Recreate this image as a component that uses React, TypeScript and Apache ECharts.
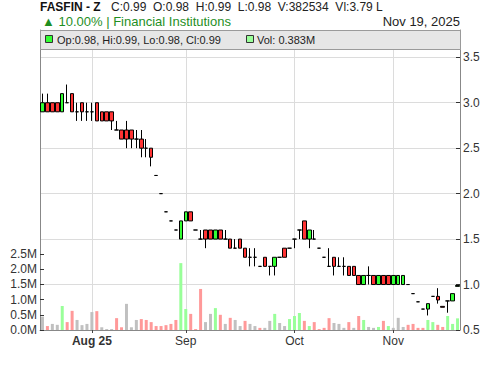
import React, { useEffect, useRef } from 'react';
import * as echarts from 'echarts';

// Trading days (Dhaka Stock Exchange, Sun-Thu)
const dates: string[] = [
  '2025-07-20', '2025-07-21', '2025-07-22', '2025-07-23', '2025-07-24', '2025-07-27', '2025-07-28', '2025-07-29', '2025-07-30', '2025-07-31',
  '2025-08-03', '2025-08-04', '2025-08-06', '2025-08-07', '2025-08-10', '2025-08-11', '2025-08-12', '2025-08-13', '2025-08-14', '2025-08-17',
  '2025-08-18', '2025-08-19', '2025-08-20', '2025-08-21', '2025-08-24', '2025-08-25', '2025-08-26', '2025-08-27', '2025-08-28',
  '2025-09-01', '2025-09-02', '2025-09-03', '2025-09-04', '2025-09-07', '2025-09-08', '2025-09-09', '2025-09-10', '2025-09-11', '2025-09-14',
  '2025-09-15', '2025-09-16', '2025-09-17', '2025-09-18', '2025-09-21', '2025-09-22', '2025-09-23', '2025-09-24', '2025-09-25', '2025-09-28',
  '2025-09-29', '2025-09-30',
  '2025-10-05', '2025-10-06', '2025-10-07', '2025-10-08', '2025-10-09', '2025-10-12', '2025-10-13', '2025-10-14', '2025-10-15', '2025-10-16',
  '2025-10-19', '2025-10-20', '2025-10-21', '2025-10-22', '2025-10-23', '2025-10-26', '2025-10-27', '2025-10-28', '2025-10-29', '2025-10-30',
  '2025-11-02', '2025-11-03', '2025-11-04', '2025-11-05', '2025-11-06', '2025-11-09', '2025-11-10', '2025-11-11', '2025-11-12', '2025-11-13',
  '2025-11-16', '2025-11-17', '2025-11-18', '2025-11-19',
];

const opens: number[] = [
  2.9, 3.0, 3.0, 3.0, 2.9, 3.0, 3.1, 2.9, 3.0, 2.9,
  2.9, 3.0, 2.9, 2.9, 2.9, 2.7, 2.7, 2.7, 2.7, 2.6,
  2.6, 2.5, 2.5, 2.2, 2.0, 1.8, 1.7, 1.6, 1.5, 1.7,
  1.8, 1.6, 1.5, 1.6, 1.6, 1.5, 1.6, 1.5, 1.5, 1.4,
  1.5, 1.4, 1.3, 1.3, 1.2, 1.3, 1.2, 1.2, 1.3, 1.4,
  1.4, 1.5, 1.6, 1.7, 1.5, 1.5, 1.4, 1.3, 1.2, 1.3,
  1.2, 1.2, 1.2, 1.2, 1.1, 1.0, 1.1, 1.1, 1.0, 1.1,
  1.1, 1.0, 1.0, 1.0, 1.0, 0.9, 0.81, 0.73, 0.73, 0.87,
  0.87, 0.76, 0.82, 0.82, 0.98,
];
const closes: number[] = [
  3.0, 2.9, 2.9, 2.9, 3.1, 3.0, 2.9, 2.9, 2.9, 2.9,
  2.9, 2.8, 2.8, 2.8, 2.8, 2.7, 2.6, 2.6, 2.6, 2.6,
  2.5, 2.5, 2.4, 2.2, 2.0, 1.8, 1.7, 1.6, 1.7, 1.8,
  1.7, 1.6, 1.5, 1.5, 1.5, 1.6, 1.5, 1.5, 1.4, 1.4,
  1.4, 1.3, 1.3, 1.3, 1.2, 1.2, 1.2, 1.3, 1.3, 1.3,
  1.4, 1.5, 1.6, 1.5, 1.6, 1.5, 1.4, 1.3, 1.2, 1.2,
  1.2, 1.2, 1.1, 1.1, 1.0, 1.1, 1.1, 1.0, 1.1, 1.0,
  1.0, 1.1, 1.1, 1.1, 1.0, 0.9, 0.81, 0.73, 0.79, 0.87,
  0.83, 0.75, 0.82, 0.9, 0.99,
];
const lows: number[] = [
  2.9, 2.9, 2.9, 2.9, 2.9, 3.0, 2.9, 2.8, 2.8, 2.8,
  2.8, 2.8, 2.8, 2.8, 2.7, 2.7, 2.6, 2.5, 2.5, 2.5,
  2.4, 2.4, 2.3, 2.2, 2.0, 1.8, 1.7, 1.6, 1.5, 1.7,
  1.7, 1.6, 1.5, 1.4, 1.5, 1.5, 1.5, 1.5, 1.4, 1.4,
  1.4, 1.3, 1.2, 1.2, 1.2, 1.2, 1.1, 1.1, 1.3, 1.3,
  1.4, 1.4, 1.5, 1.5, 1.4, 1.5, 1.4, 1.3, 1.2, 1.1,
  1.2, 1.1, 1.1, 1.1, 1.0, 1.0, 1.0, 1.0, 1.0, 1.0,
  1.0, 1.0, 1.0, 1.0, 1.0, 0.9, 0.81, 0.73, 0.66, 0.87,
  0.79, 0.75, 0.69, 0.82, 0.98,
];
const highs: number[] = [
  3.1, 3.1, 3.0, 3.0, 3.1, 3.2, 3.1, 3.0, 3.0, 3.0,
  3.0, 3.0, 2.9, 2.9, 2.9, 2.8, 2.7, 2.8, 2.7, 2.7,
  2.7, 2.6, 2.5, 2.2, 2.0, 1.8, 1.7, 1.6, 1.7, 1.8,
  1.8, 1.6, 1.6, 1.6, 1.6, 1.6, 1.6, 1.6, 1.5, 1.5,
  1.5, 1.4, 1.4, 1.4, 1.2, 1.3, 1.2, 1.3, 1.3, 1.4,
  1.4, 1.5, 1.6, 1.7, 1.6, 1.6, 1.4, 1.3, 1.4, 1.3,
  1.3, 1.3, 1.2, 1.2, 1.1, 1.1, 1.2, 1.1, 1.1, 1.1,
  1.1, 1.1, 1.1, 1.1, 1.0, 0.9, 0.81, 0.73, 0.79, 0.87,
  0.96, 0.76, 0.82, 0.9, 0.99,
];

// Volume in millions, and its colour class (u = up, d = down, n = unchanged)
const volumes: number[] = [
  0.44, 0.13, 0.2, 0.17, 0.79, 0.26, 0.63, 0.33, 0.16, 0.2,
  0.59, 0.62, 0.09, 0.03, 0.03, 0.39, 0.09, 0.86, 0.09, 0.33,
  0.36, 0.33, 0.26, 0.13, 0.13, 0.16, 0.2, 0.33, 2.2, 0.69,
  0.53, 0.03, 1.35, 0.26, 0.53, 0.72, 0.5, 0.2, 0.4, 0.33,
  0.13, 0.3, 0.2, 0.13, 0.07, 0.07, 0.3, 0.53, 0.23, 0.13,
  0.36, 0.46, 0.56, 0.3, 0.13, 0.26, 0.03, 0.07, 0.39, 0.23,
  0.2, 0.07, 0.26, 0.07, 0.46, 0.33, 0.1, 0.07, 0.1, 0.3,
  0.13, 0.07, 0.4, 0.1, 0.17, 0.2, 0.07, 0.07, 0.33, 0.26,
  0.17, 0.1, 0.46, 0.2, 0.383,
];
const volDir: string[] = [
  'n', 'd', 'n', 'n', 'u', 'd', 'd', 'n', 'n', 'n',
  'n', 'd', 'n', 'n', 'n', 'd', 'd', 'n', 'n', 'n',
  'd', 'd', 'd', 'd', 'd', 'd', 'd', 'd', 'u', 'u',
  'd', 'd', 'd', 'n', 'n', 'u', 'd', 'n', 'd', 'n',
  'n', 'd', 'n', 'n', 'd', 'n', 'n', 'u', 'n', 'n',
  'u', 'u', 'u', 'd', 'u', 'd', 'd', 'd', 'd', 'n',
  'n', 'n', 'd', 'n', 'd', 'u', 'n', 'n', 'u', 'd',
  'u', 'n', 'n', 'n', 'd', 'd', 'd', 'd', 'u', 'u',
  'd', 'd', 'u', 'u', 'u',
];

const tickDates: string[] = ['2025-08-03', '2025-09-01', '2025-10-05', '2025-11-02'];
const tickTexts: string[] = ['Aug 25', 'Sep', 'Oct', 'Nov'];
const tickBold: boolean[] = [true, false, false, false];

const headerTitle = 'FASFIN - Z';
const headerQuoteItems: string[] = ['C:0.99', 'O:0.98', 'H:0.99', 'L:0.98', 'V:382534', 'Vl:3.79 L'];
const headerChange = '\u25B2 10.00% | Financial Institutions';
const headerDate = 'Nov 19, 2025';
const legendOhlc = 'Op:0.98, Hi:0.99, Lo:0.98, Cl:0.99';
const legendVol = 'Vol: 0.383M';

const FONT = 'Liberation Sans, Arial, sans-serif';
const UP = '#33ff33';
const DOWN = '#ff3333';
const VOL_COLORS: Record<string, string> = { u: '#99ff99', d: '#ff9999', n: '#c0c0c0' };

export default function App() {
  const ref = useRef<HTMLDivElement>(null);

  useEffect(() => {
    if (!ref.current) return;
    const chart = echarts.init(ref.current, undefined, { renderer: 'svg' });
    const isTick = (index: number) => tickDates.includes(dates[index]);

    const txt = (text: string, x: number, y: number, size: number, color: string, opts: any = {}) => ({
      type: 'text',
      x,
      y,
      z: 101,
      style: {
        text,
        fontSize: size,
        fontFamily: FONT,
        fontWeight: opts.bold ? 'bold' : 'normal',
        fill: color,
        textAlign: opts.align || 'left',
        textVerticalAlign: 'middle',
      },
    });

    // lay the quote items out one after another, two spaces apart
    const ctx = document.createElement('canvas').getContext('2d') as CanvasRenderingContext2D;
    ctx.font = '12px ' + FONT;
    const gapW = ctx.measureText('  ').width || 6.67;
    let qx = 111;
    const quoteEls = headerQuoteItems.map((s) => {
      const el = txt(s, qx, 7, 12, '#222');
      qx += ctx.measureText(s).width + gapW;
      return el;
    });

    const option: any = {
      animation: false,
      backgroundColor: '#ffffff',
      textStyle: { fontFamily: FONT },
      grid: [
        { left: 40, right: 40, top: 30, bottom: 36 },
        { left: 40, right: 40, top: 254, bottom: 36 },
      ],
      xAxis: [
        {
          type: 'category',
          gridIndex: 0,
          data: dates,
          boundaryGap: true,
          axisLine: { show: true, lineStyle: { color: '#888888' } },
          axisTick: { show: true, alignWithLabel: true, interval: isTick, length: 3, lineStyle: { color: '#444' } },
          axisLabel: {
            show: true,
            interval: isTick,
            color: '#333',
            fontSize: 12,
            fontFamily: FONT,
            margin: 5,
            formatter: (value: string) => {
              const i = tickDates.indexOf(value);
              if (i < 0) return '';
              return tickBold[i] ? '{b|' + tickTexts[i] + '}' : tickTexts[i];
            },
            rich: { b: { fontWeight: 'bold', fontSize: 12, color: '#333', fontFamily: FONT } },
          },
          splitLine: { show: true, interval: isTick, alignWithLabel: true, lineStyle: { color: '#dcdcdc', width: 1 } },
        },
        { type: 'category', gridIndex: 1, data: dates, boundaryGap: true, show: false },
      ],
      yAxis: [
        {
          type: 'value',
          gridIndex: 0,
          position: 'right',
          min: 0.5,
          max: 3.8,
          interval: 0.5,
          axisLine: { show: true, lineStyle: { color: '#888888' } },
          axisTick: { show: true, inside: true, length: 4, lineStyle: { color: '#333' } },
          axisLabel: { color: '#333', fontSize: 12, fontFamily: FONT, margin: 3, showMaxLabel: false, formatter: (v: number) => v.toFixed(1) },
          splitLine: { show: true, lineStyle: { color: '#dcdcdc', width: 1 } },
        },
        {
          type: 'value',
          gridIndex: 0,
          position: 'left',
          min: 0.5,
          max: 3.8,
          axisLine: { show: true, onZero: false, lineStyle: { color: '#888888' } },
          axisTick: { show: false },
          axisLabel: { show: false },
          splitLine: { show: false },
        },
        {
          type: 'value',
          gridIndex: 1,
          position: 'left',
          min: 0,
          max: 2.5,
          interval: 0.5,
          axisLine: { show: false },
          axisTick: { show: true, inside: true, length: 4, lineStyle: { color: '#333' } },
          axisLabel: { color: '#333', fontSize: 12, fontFamily: FONT, margin: 3, formatter: (v: number) => v.toFixed(1) + 'M' },
          splitLine: { show: false },
        },
      ],
      series: [
        {
          type: 'bar',
          xAxisIndex: 1,
          yAxisIndex: 2,
          barWidth: 3,
          data: volumes.map((v, i) => ({ value: v, itemStyle: { color: VOL_COLORS[volDir[i]] } })),
        },
        {
          type: 'candlestick',
          xAxisIndex: 0,
          yAxisIndex: 0,
          barWidth: 4,
          data: dates.map((_, i) => [opens[i], closes[i], lows[i], highs[i]]),
          itemStyle: {
            color: UP,
            color0: DOWN,
            borderColor: '#000',
            borderColor0: '#000',
            borderColorDoji: '#000',
            borderWidth: 1,
          },
        },
      ],
      graphic: [
        txt(headerTitle, 40, 7, 12, '#111', { bold: true }),
        ...quoteEls,
        txt(headerChange, 42, 21, 13, '#1f8f1f'),
        txt(headerDate, 460, 21, 13, '#222', { align: 'right' }),
        { type: 'rect', z: 100, shape: { x: 40.5, y: 30.5, width: 420, height: 19 }, style: { fill: '#e6e6e6', stroke: '#9a9a9a', lineWidth: 1 } },
        { type: 'rect', z: 101, shape: { x: 45.5, y: 35.5, width: 7, height: 7 }, style: { fill: UP, stroke: '#333', lineWidth: 1 } },
        txt(legendOhlc, 57, 39.5, 11, '#222'),
        { type: 'rect', z: 101, shape: { x: 246.5, y: 35.5, width: 7, height: 7 }, style: { fill: '#99ff99', stroke: '#333', lineWidth: 1 } },
        txt(legendVol, 257, 39.5, 11, '#222'),
      ],
    };

    chart.setOption(option);
    return () => chart.dispose();
  }, []);

  return <div ref={ref} style={{ position: 'fixed', left: 0, top: 0, width: 500, height: 366, background: '#fff' }} />;
}
